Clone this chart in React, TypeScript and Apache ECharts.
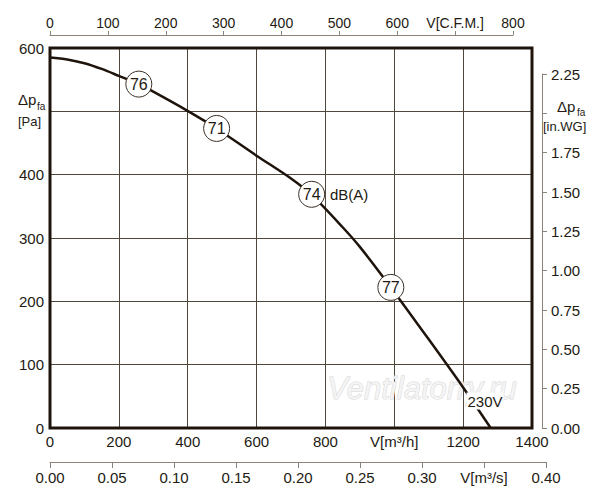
import React, { useEffect, useRef } from "react";
import * as echarts from "echarts";

// Fan curve: flow [m³/h] vs static pressure [Pa]
const flowM3h = [0, 50, 100, 150, 200, 258, 300, 402, 484, 600, 700, 760, 850, 900, 990, 1100, 1200, 1280];
const pressurePa = [585, 582, 576, 567, 556, 543, 531, 500, 473, 430, 394, 368, 317, 286, 222, 140, 64, 0];

// Noise level markers on the curve
const noiseFlow = [258, 484, 760, 990];
const noisePressure = [543, 473, 369, 222];
const noiseLabels = ["76", "71", "74", "77"];

const FONT = "Liberation Sans, Arial, sans-serif";
const TXT = "#231a12";
const AX2 = "#8c8478";

export default function App() {
  const ref = useRef<HTMLDivElement>(null);
  useEffect(() => {
    document.body.style.margin = "0";
    const chart = echarts.init(ref.current!, undefined, { renderer: "svg" });
    const curve = flowM3h.map((x, i) => [x, pressurePa[i]]);
    const marks = noiseFlow.map((x, i) => ({ value: [x, noisePressure[i]], name: noiseLabels[i] }));
    const option: any = {
      animation: false,
      backgroundColor: "#ffffff",
      textStyle: { fontFamily: FONT, color: TXT },
      grid: [
        { left: 50, top: 48, width: 482, height: 380, show: true, borderColor: "#1e140c", borderWidth: 3, backgroundColor: "transparent", containLabel: false, outerBoundsMode: "none", z: 3 },
        { left: 50, top: 34, width: 463, height: 1, containLabel: false, outerBoundsMode: "none" },
        { left: 50, top: 461, width: 496, height: 1, containLabel: false, outerBoundsMode: "none" },
        { left: 542, top: 74, width: 1, height: 354, containLabel: false, outerBoundsMode: "none" },
      ],
      xAxis: [
        {
          gridIndex: 0, type: "value", min: 0, max: 1400, interval: 200,
          axisLine: { show: false }, axisTick: { show: false },
          splitLine: { show: true, lineStyle: { color: "#4f463c", width: 1 } },
          axisLabel: {
            margin: 6, fontSize: 15, color: TXT, fontFamily: FONT,
            formatter: (v: number) => (v === 1000 ? "V[m³/h]" : String(v)),
          },
        },
        {
          gridIndex: 1, type: "value", position: "top", min: 0, max: 800, interval: 100,
          axisLine: { show: true, lineStyle: { color: AX2, width: 1 } },
          axisTick: { show: true, length: 4, lineStyle: { color: AX2 } },
          splitLine: { show: false },
          axisLabel: {
            margin: 4, fontSize: 14, color: TXT, fontFamily: FONT,
            formatter: (v: number) => (v === 700 ? "V[C.F.M.]" : String(v)),
          },
        },
        {
          gridIndex: 2, type: "value", position: "bottom", min: 0, max: 0.4, interval: 0.05,
          axisLine: { show: true, lineStyle: { color: AX2, width: 1 } },
          axisTick: { show: true, length: 6, lineStyle: { color: AX2 } },
          splitLine: { show: false },
          axisLabel: {
            margin: 8, fontSize: 15, color: TXT, fontFamily: FONT,
            formatter: (v: number) => (Math.abs(v - 0.35) < 1e-6 ? "V[m³/s]" : v.toFixed(2)),
          },
        },
        { gridIndex: 3, type: "value", show: false, min: 0, max: 1 },
      ],
      yAxis: [
        {
          gridIndex: 0, type: "value", min: 0, max: 600, interval: 100,
          axisLine: { show: false }, axisTick: { show: false },
          splitLine: { show: true, lineStyle: { color: "#4f463c", width: 1 } },
          axisLabel: {
            margin: 6, fontSize: 15, color: TXT, fontFamily: FONT,
            formatter: (v: number) => (v === 500 ? "" : String(v)),
          },
        },
        { gridIndex: 1, type: "value", show: false, min: 0, max: 1 },
        { gridIndex: 2, type: "value", show: false, min: 0, max: 1 },
        {
          gridIndex: 3, type: "value", position: "right", min: 0, max: 2.25, interval: 0.25,
          axisLine: { show: true, lineStyle: { color: AX2, width: 1 } },
          axisTick: { show: true, length: 5, lineStyle: { color: AX2 } },
          splitLine: { show: false },
          axisLabel: {
            margin: 8, fontSize: 15, color: TXT, fontFamily: FONT,
            formatter: (v: number) => (Math.abs(v - 2) < 1e-6 ? "" : v.toFixed(2)),
          },
        },
      ],
      series: [
        {
          type: "line", xAxisIndex: 0, yAxisIndex: 0, data: curve,
          smooth: 0.3, showSymbol: false, symbol: "none",
          lineStyle: { color: "#1e140c", width: 2.5 }, z: 2,
        },
        {
          type: "scatter", xAxisIndex: 0, yAxisIndex: 0, data: marks,
          symbol: "circle", symbolSize: 26,
          itemStyle: { color: "#ffffff", borderColor: "#3a3028", borderWidth: 1, opacity: 1 },
          label: {
            show: true, position: "inside", formatter: (p: any) => p.name,
            fontSize: 16, color: TXT, fontFamily: FONT,
          },
          z: 4,
        },
      ],
      graphic: [
        {
          type: "text", x: 422, y: 388, z: 1, silent: true,
          style: {
            text: "Ventilatorry.ru", fontSize: 31, fontStyle: "italic", fontFamily: FONT,
            fill: "#f4f4f4", stroke: "#d6d6d6", lineWidth: 1, align: "center", verticalAlign: "middle",
          },
        },
        { type: "text", x: 18, y: 99, style: { text: "Δp", fontSize: 15, fontFamily: FONT, fill: TXT, verticalAlign: "middle" } },
        { type: "text", x: 37, y: 106, style: { text: "fa", fontSize: 10, fontFamily: FONT, fill: TXT, verticalAlign: "middle" } },
        { type: "text", x: 18, y: 121, style: { text: "[Pa]", fontSize: 13, fontFamily: FONT, fill: TXT, verticalAlign: "middle" } },
        { type: "text", x: 557, y: 106, style: { text: "Δp", fontSize: 15, fontFamily: FONT, fill: TXT, verticalAlign: "middle" } },
        { type: "text", x: 577, y: 112, style: { text: "fa", fontSize: 10, fontFamily: FONT, fill: TXT, verticalAlign: "middle" } },
        { type: "text", x: 543, y: 126, style: { text: "[in.WG]", fontSize: 13, fontFamily: FONT, fill: TXT, verticalAlign: "middle" } },
        { type: "text", x: 330, y: 194, z: 10, style: { text: "dB(A)", fontSize: 15, fontFamily: FONT, fill: TXT, verticalAlign: "middle" } },
        {
          type: "text", x: 485, y: 401, z: 10,
          style: {
            text: "230V", fontSize: 15, fontFamily: FONT, fill: TXT, align: "center", verticalAlign: "middle",
            backgroundColor: "#ffffff", padding: [1, 1],
          },
        },
      ],
    };
    chart.setOption(option);
    return () => chart.dispose();
  }, []);
  return <div ref={ref} style={{ position: "absolute", left: 0, top: 0, width: 600, height: 500 }} />;
}
